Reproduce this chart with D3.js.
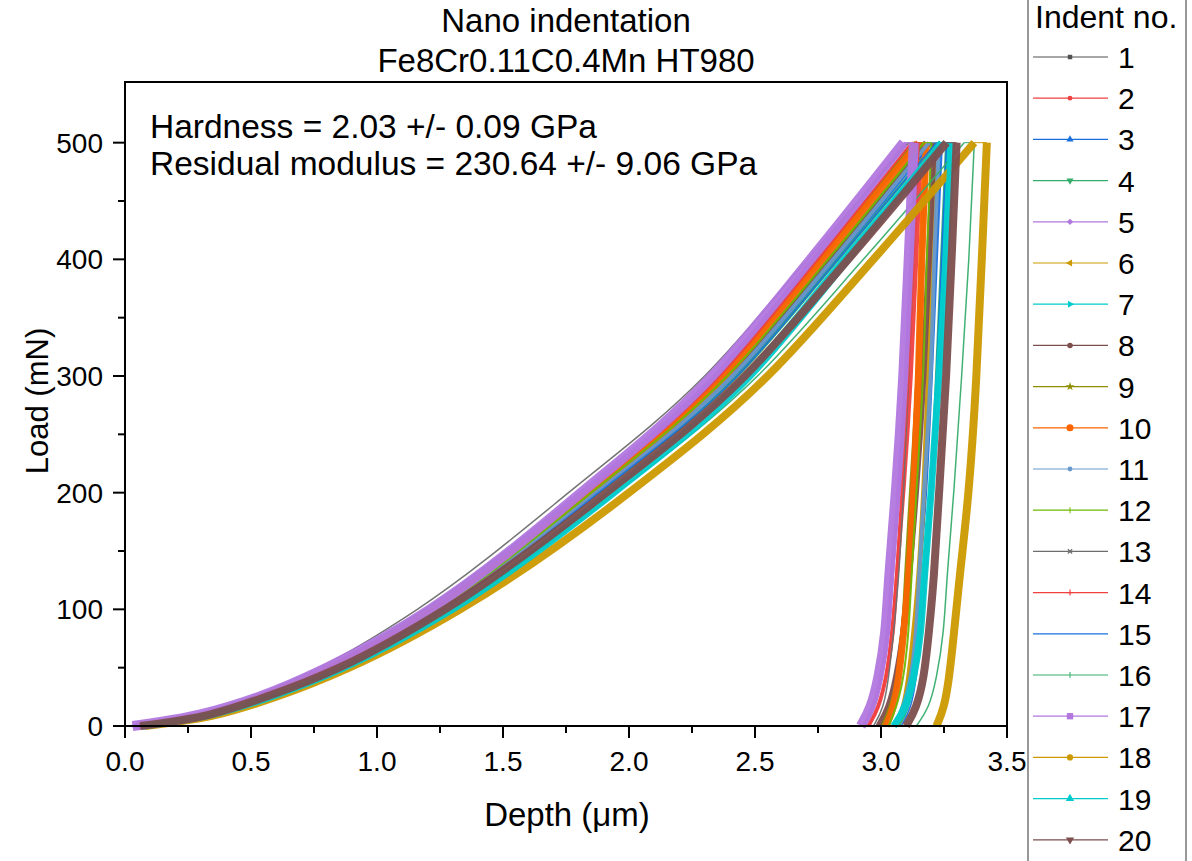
<!DOCTYPE html>
<html>
<head>
<meta charset="utf-8">
<script src="https://cdn.jsdelivr.net/npm/d3@7"></script>
<style>
  body { margin: 0; background: #fff; }
  svg { display: block; font-family: "Liberation Sans", Arial, sans-serif; }
</style>
</head>
<body>
<script>
// indent numbers shown in the legend
var indentNames = ["1", "2", "3", "4", "5", "6", "7", "8", "9", "10",
                   "11", "12", "13", "14", "15", "16", "17", "18", "19", "20"];

// loading branch: load levels (mN) and the depth (um) of each indent at those loads
var loadLevels = [0, 10, 25, 50, 100, 200, 300, 400, 500];
var loadDepths = [
  [0.05, 0.30, 0.52, 0.79, 1.19, 1.80, 2.34, 2.75, 3.14],
  [0.04, 0.31, 0.54, 0.81, 1.22, 1.83, 2.36, 2.75, 3.13],
  [0.06, 0.33, 0.55, 0.83, 1.25, 1.87, 2.42, 2.82, 3.20],
  [0.05, 0.33, 0.55, 0.84, 1.26, 1.88, 2.43, 2.83, 3.22],
  [0.03, 0.30, 0.53, 0.81, 1.21, 1.81, 2.34, 2.73, 3.10],
  [0.07, 0.33, 0.55, 0.83, 1.24, 1.86, 2.40, 2.80, 3.18],
  [0.06, 0.34, 0.57, 0.86, 1.29, 1.92, 2.46, 2.85, 3.24],
  [0.05, 0.32, 0.55, 0.83, 1.24, 1.86, 2.40, 2.80, 3.18],
  [0.04, 0.31, 0.54, 0.82, 1.22, 1.84, 2.37, 2.76, 3.14],
  [0.05, 0.32, 0.54, 0.82, 1.23, 1.84, 2.38, 2.77, 3.15],
  [0.06, 0.33, 0.55, 0.83, 1.24, 1.87, 2.41, 2.81, 3.19],
  [0.04, 0.32, 0.55, 0.82, 1.24, 1.85, 2.39, 2.79, 3.17],
  [0.02, 0.28, 0.50, 0.77, 1.16, 1.76, 2.30, 2.71, 3.11],
  [0.03, 0.31, 0.54, 0.81, 1.22, 1.83, 2.36, 2.75, 3.12],
  [0.06, 0.33, 0.55, 0.84, 1.26, 1.88, 2.43, 2.83, 3.22],
  [0.07, 0.35, 0.57, 0.87, 1.30, 1.95, 2.51, 2.93, 3.33],
  [0.03, 0.30, 0.53, 0.80, 1.21, 1.81, 2.33, 2.72, 3.09],
  [0.08, 0.37, 0.60, 0.89, 1.33, 2.00, 2.55, 2.97, 3.37],
  [0.07, 0.35, 0.58, 0.87, 1.30, 1.94, 2.48, 2.87, 3.24],
  [0.06, 0.34, 0.56, 0.85, 1.27, 1.91, 2.46, 2.87, 3.26]
];

// unloading branch: first point is the end of the hold at 500 mN
var unloadLevels = [500, 400, 300, 200, 125, 80, 40, 15, 0];
var unloadDepths = [
  [3.18, 3.16, 3.14, 3.12, 3.10, 3.08, 3.06, 3.04, 3.00],
  [3.16, 3.14, 3.12, 3.09, 3.06, 3.05, 3.02, 2.99, 2.95],
  [3.24, 3.22, 3.20, 3.18, 3.15, 3.14, 3.11, 3.09, 3.05],
  [3.26, 3.24, 3.22, 3.20, 3.17, 3.16, 3.13, 3.11, 3.07],
  [3.14, 3.12, 3.10, 3.07, 3.04, 3.03, 3.00, 2.97, 2.93],
  [3.22, 3.20, 3.19, 3.17, 3.15, 3.13, 3.11, 3.09, 3.06],
  [3.27, 3.25, 3.23, 3.20, 3.17, 3.15, 3.12, 3.09, 3.05],
  [3.21, 3.19, 3.17, 3.14, 3.11, 3.09, 3.06, 3.03, 2.99],
  [3.18, 3.16, 3.15, 3.12, 3.10, 3.09, 3.07, 3.04, 3.01],
  [3.18, 3.16, 3.15, 3.13, 3.11, 3.09, 3.07, 3.05, 3.02],
  [3.23, 3.21, 3.20, 3.17, 3.15, 3.14, 3.12, 3.09, 3.06],
  [3.20, 3.18, 3.17, 3.14, 3.12, 3.11, 3.09, 3.06, 3.03],
  [3.15, 3.13, 3.11, 3.09, 3.07, 3.05, 3.03, 3.01, 2.97],
  [3.15, 3.13, 3.11, 3.08, 3.06, 3.04, 3.02, 2.99, 2.95],
  [3.26, 3.24, 3.22, 3.20, 3.18, 3.16, 3.14, 3.12, 3.08],
  [3.37, 3.35, 3.32, 3.29, 3.26, 3.25, 3.22, 3.19, 3.14],
  [3.13, 3.11, 3.09, 3.06, 3.03, 3.02, 2.99, 2.96, 2.92],
  [3.42, 3.40, 3.38, 3.35, 3.31, 3.29, 3.27, 3.25, 3.22],
  [3.28, 3.26, 3.23, 3.20, 3.17, 3.16, 3.13, 3.10, 3.05],
  [3.30, 3.28, 3.26, 3.23, 3.21, 3.19, 3.17, 3.14, 3.10]
];

var xTicks = [0, 0.5, 1.0, 1.5, 2.0, 2.5, 3.0, 3.5];
var xMinorTicks = [0.25, 0.75, 1.25, 1.75, 2.25, 2.75, 3.25];
var yTicks = [0, 100, 200, 300, 400, 500];
var yMinorTicks = [50, 150, 250, 350, 450];

// look of each indent (Origin style palette)
var colors = ["#515151", "#F14040", "#1A6FDF", "#37AD6B", "#B177DE", "#CC9900", "#00CBCC",
              "#7D4E4E", "#8E8E00", "#FB6501", "#6699CC", "#6FB802", "#6d6d6d", "#F14040",
              "#1A6FDF", "#37AD6B", "#B177DE", "#CC9900", "#00CBCC", "#7D4E4E"];
var bandWidths = [1.5, 4, 3, 3, 4, 5, 5, 6, 5, 7, 4, 2, 1.5, 2, 1.5, 1.5, 10, 8, 7, 8];
var markers = ["square", "circle", "up", "down", "diamond", "left", "right", "circle", "star", "circle",
               "circle", "vbar", "times", "plus", "none", "vbar", "square", "circle", "up", "down"];
var markerSizes = [20, 18, 22, 22, 20, 22, 22, 24, 24, 40, 18, 0, 0, 0, 0, 0, 40, 30, 30, 30];

var width = 1192, height = 861;
var svg = d3.select("body").append("svg").attr("width", width).attr("height", height);
svg.append("rect").attr("width", width).attr("height", height).attr("fill", "white");

var x = d3.scaleLinear().domain([0, 3.5]).range([125, 1007]);
var y = d3.scaleLinear().domain([0, 552]).range([726, 82]);

// curves
var lineLoad = d3.line().x(function (d) { return x(d[0]); }).y(function (d) { return y(d[1]); })
    .curve(d3.curveMonotoneX);
var lineUnload = d3.line().x(function (d) { return x(d[0]); }).y(function (d) { return y(d[1]); })
    .curve(d3.curveBasis);
var lineHold = d3.line().x(function (d) { return x(d[0]); }).y(function (d) { return y(d[1]); });

var plot = svg.append("g");
indentNames.forEach(function (name, i) {
    var loadPts = loadLevels.map(function (p, j) { return [loadDepths[i][j], p]; });
    var unloadPts = unloadLevels.map(function (p, j) { return [unloadDepths[i][j], p]; });
    var g = plot.append("g");
    g.append("path")
        .attr("d", lineHold([loadPts[loadPts.length - 1], unloadPts[0]]))
        .attr("fill", "none").attr("stroke", colors[i]).attr("stroke-width", 1);
    [lineLoad(loadPts), lineUnload(unloadPts)].forEach(function (d) {
        g.append("path")
            .attr("d", d)
            .attr("fill", "none")
            .attr("stroke", colors[i])
            .attr("stroke-width", bandWidths[i])
            .attr("stroke-linejoin", "round")
            .attr("stroke-opacity", 0.95);
    });
});

// frame
var axisColor = "#000";
svg.append("rect").attr("x", 125).attr("y", 82).attr("width", 882).attr("height", 644)
    .attr("fill", "none").attr("stroke", axisColor).attr("stroke-width", 2);

// x ticks
svg.selectAll("line.xt").data(xTicks).enter().append("line")
    .attr("x1", function (d) { return x(d); }).attr("x2", function (d) { return x(d); })
    .attr("y1", 726).attr("y2", 738).attr("stroke", axisColor).attr("stroke-width", 2);
svg.selectAll("line.xm").data(xMinorTicks).enter().append("line")
    .attr("x1", function (d) { return x(d); }).attr("x2", function (d) { return x(d); })
    .attr("y1", 726).attr("y2", 733).attr("stroke", axisColor).attr("stroke-width", 2);
svg.selectAll("text.xl").data(xTicks).enter().append("text")
    .attr("x", function (d) { return x(d); }).attr("y", 771)
    .attr("text-anchor", "middle").attr("font-size", 28)
    .text(function (d) { return d.toFixed(1); });

// y ticks
svg.selectAll("line.yt").data(yTicks).enter().append("line")
    .attr("x1", 113).attr("x2", 125)
    .attr("y1", function (d) { return y(d); }).attr("y2", function (d) { return y(d); })
    .attr("stroke", axisColor).attr("stroke-width", 2);
svg.selectAll("line.ym").data(yMinorTicks).enter().append("line")
    .attr("x1", 118).attr("x2", 125)
    .attr("y1", function (d) { return y(d); }).attr("y2", function (d) { return y(d); })
    .attr("stroke", axisColor).attr("stroke-width", 2);
svg.selectAll("text.yl").data(yTicks).enter().append("text")
    .attr("x", 103).attr("y", function (d) { return y(d) + 10; })
    .attr("text-anchor", "end").attr("font-size", 28)
    .text(function (d) { return d; });

// axis titles
svg.append("text").attr("x", 567).attr("y", 826).attr("text-anchor", "middle")
    .attr("font-size", 33).text("Depth (\u03bcm)");
svg.append("text").attr("transform", "translate(48,401) rotate(-90)").attr("text-anchor", "middle")
    .attr("font-size", 31).text("Load (mN)");

// title
svg.append("text").attr("x", 566).attr("y", 32).attr("text-anchor", "middle")
    .attr("font-size", 33).text("Nano indentation");
svg.append("text").attr("x", 566).attr("y", 72).attr("text-anchor", "middle")
    .attr("font-size", 33).text("Fe8Cr0.11C0.4Mn HT980");

// results text
svg.append("text").attr("x", 150).attr("y", 138).attr("font-size", 33.5)
    .text("Hardness = 2.03 +/- 0.09 GPa");
svg.append("text").attr("x", 150).attr("y", 175).attr("font-size", 33.5)
    .text("Residual modulus = 230.64 +/- 9.06 GPa");

// legend
var legend = svg.append("g");
legend.append("rect").attr("x", 1028).attr("y", -2).attr("width", 158).attr("height", 866)
    .attr("fill", "white").attr("stroke", "#777").attr("stroke-width", 1.5);
legend.append("text").attr("x", 1035).attr("y", 28).attr("font-size", 32).text("Indent no.");

function drawMarker(g, type, size, color) {
    var rot = { up: 0, down: 180, left: -90, right: 90 };
    if (type === "none") return;
    if (type === "vbar") {
        g.append("line").attr("x1", 0).attr("x2", 0).attr("y1", -3).attr("y2", 3)
            .attr("stroke", color).attr("stroke-width", 1);
        return;
    }
    if (type === "times" || type === "plus") {
        var a = type === "times" ? 45 : 0;
        var m = g.append("g").attr("transform", "rotate(" + a + ")");
        m.append("line").attr("x1", -3).attr("x2", 3).attr("y1", 0).attr("y2", 0)
            .attr("stroke", color).attr("stroke-width", 1.2);
        m.append("line").attr("x1", 0).attr("x2", 0).attr("y1", -3).attr("y2", 3)
            .attr("stroke", color).attr("stroke-width", 1.2);
        return;
    }
    var sym = d3.symbolCircle, r = 0;
    if (type === "square") sym = d3.symbolSquare;
    if (type === "diamond") { sym = d3.symbolSquare; r = 45; }
    if (type === "star") sym = d3.symbolStar;
    if (type in rot) { sym = d3.symbolTriangle; r = rot[type]; }
    g.append("path").attr("d", d3.symbol().type(sym).size(size)())
        .attr("transform", "rotate(" + r + ")").attr("fill", color);
}

indentNames.forEach(function (name, i) {
    var ly = 57 + i * 41.2;
    var g = legend.append("g");
    g.append("line").attr("x1", 1033).attr("x2", 1108).attr("y1", ly).attr("y2", ly)
        .attr("stroke", colors[i]).attr("stroke-width", 1.2);
    var mg = g.append("g").attr("transform", "translate(1070," + ly + ")");
    drawMarker(mg, markers[i], markerSizes[i], colors[i]);
    g.append("text").attr("x", 1118).attr("y", ly + 11).attr("font-size", 30).text(name);
});
</script>
</body>
</html>
